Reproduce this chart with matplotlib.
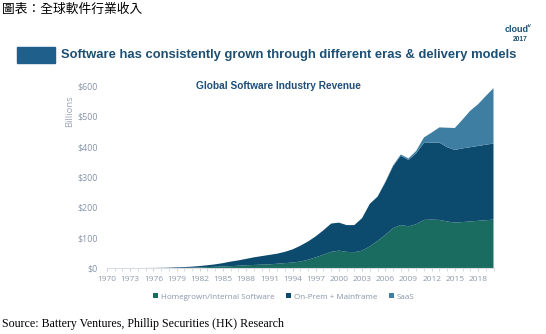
import matplotlib
matplotlib.use("Agg")
import matplotlib.pyplot as plt
from matplotlib.patches import Patch, Rectangle
import numpy as np

years = list(range(1970, 2021))
homegrown = [0.2, 0.2, 0.3, 0.3, 0.4, 0.4, 0.5, 0.6, 0.8, 1.0,
             1.5, 2, 3, 4, 5, 6, 7, 8.5, 10, 11,
             12, 13, 15, 17, 19, 22, 28, 36, 45, 54,
             58, 54, 53, 58, 72, 90, 110, 132, 142, 138,
             145, 159, 160, 159, 154, 150, 152, 154, 156, 158, 160]
onprem_top = [0.5, 0.6, 0.7, 0.8, 0.9, 1.0, 1.2, 1.5, 2, 3,
              4, 5.5, 7.5, 10, 13, 17, 22, 26, 31, 36,
              40, 44, 48, 54, 62, 74, 88, 105, 125, 147,
              150, 142, 142, 165, 212, 235, 282, 335, 370, 356,
              378, 412, 413, 413, 398, 389, 394, 398, 402, 406, 410]
onprem = [t - h for t, h in zip(onprem_top, homegrown)]
saas = [0, 0, 0, 0, 0, 0, 0, 0, 0, 0,
        0, 0, 0, 0, 0, 0, 0, 0, 0, 0,
        0, 0, 0, 0, 0, 0, 0, 0, 0, 0,
        0, 0, 0, 0, 0, 1, 2, 3, 4, 5,
        8, 18, 33, 50, 64, 72, 95, 120, 137, 160, 182]
series_names = ["Homegrown/Internal Software", "On-Prem + Mainframe", "SaaS"]
colors = ["#1A6B60", "#0C4A6E", "#3F7EA3"]
yticks = [0, 100, 200, 300, 400, 500, 600]
ytick_labels = ["$0", "$100", "$200", "$300", "$400", "$500", "$600"]
xtick_years = list(range(1970, 2021, 3))

W, H = 546, 334
fig = plt.figure(figsize=(W / 100, H / 100), dpi=100)

def fx(px):
    return px / W

def fy(py):
    return 1 - py / H

ax = fig.add_axes([fx(107), fy(268.3), fx(493.5) - fx(107), fy(85.7) - fy(268.3)])
ax.stackplot(years, homegrown, onprem, saas, colors=colors, linewidth=0)
ax.set_xlim(1970, 2020)
ax.set_ylim(0, 600)

tick_color = "#8795A8"
tick_font = ["Open Sans", "DejaVu Sans"]
ax.set_yticks(yticks)
ax.set_yticklabels(ytick_labels, fontsize=6.4, color=tick_color, family=tick_font)
ax.set_xticks(xtick_years)
ax.set_xticklabels([str(y) for y in xtick_years], fontsize=6.0, color="#8E9AAB", family=tick_font)
ax.set_xticks(years, minor=True)
ax.tick_params(axis="y", length=0, pad=6.5)
ax.tick_params(axis="x", which="both", length=2, color="#D0D4DA", pad=3.5)
for s in ["top", "right", "left"]:
    ax.spines[s].set_visible(False)
ax.spines["bottom"].set_color("#D9DCE0")
ax.spines["bottom"].set_linewidth(0.8)

fig.text(fx(70), fy(111), "Billions", rotation=90, ha="center", va="center",
         fontsize=6.8, color="#9AA6B5", family=tick_font)

# chart title
fig.text(fx(196), fy(86), "Global Software Industry Revenue", ha="left", va="center",
         fontsize=7.3, fontweight="bold", color="#1F4E79",
         family=["Liberation Sans", "DejaVu Sans"])

# banner
fig.patches.append(Rectangle((fx(17), fy(63)), fx(55) - fx(17), fy(47) - fy(63),
                             transform=fig.transFigure, color="#1F5F8B", zorder=1))
fig.text(fx(61), fy(55), "Software has consistently grown through different eras & delivery models",
         ha="left", va="center", fontsize=9.4, fontweight="bold", color="#1D4F73",
         family=["Liberation Sans", "DejaVu Sans"])

# logo
fig.text(fx(517), fy(30), "cloud", ha="center", va="center", fontsize=6.5,
         fontweight="bold", color="#1D4F73", family=["Liberation Sans", "DejaVu Sans"])
fig.text(fx(530), fy(26), "IV", ha="center", va="center", fontsize=3,
         fontweight="bold", color="#1D4F73", family=["Liberation Sans", "DejaVu Sans"])
fig.text(fx(520), fy(39.5), "2017", ha="center", va="center", fontsize=4.8,
         fontweight="bold", color="#1D4F73", family=["Liberation Sans", "DejaVu Sans"])

# header
fig.text(fx(2), fy(9), "圖表：全球軟件行業收入", ha="left", va="center", fontsize=9.2,
         color="black", family=["Noto Sans CJK TC", "DejaVu Sans"])

# source
fig.text(fx(2), fy(324), "Source: Battery Ventures, Phillip Securities (HK) Research",
         ha="left", va="center", fontsize=8.6, color="black",
         family=["Liberation Serif", "DejaVu Serif"])

handles = [Patch(facecolor=c, edgecolor="none") for c in colors]
leg = fig.legend(handles, series_names, loc="center", bbox_to_anchor=(fx(283.7), fy(297)),
                 ncol=3, frameon=False, handlelength=0.6, handleheight=0.6,
                 handletextpad=0.3, columnspacing=1.5, borderpad=0,
                 prop={"family": tick_font, "size": 5.8})
for t in leg.get_texts():
    t.set_color(tick_color)

fig.savefig("out.png", dpi=100)
